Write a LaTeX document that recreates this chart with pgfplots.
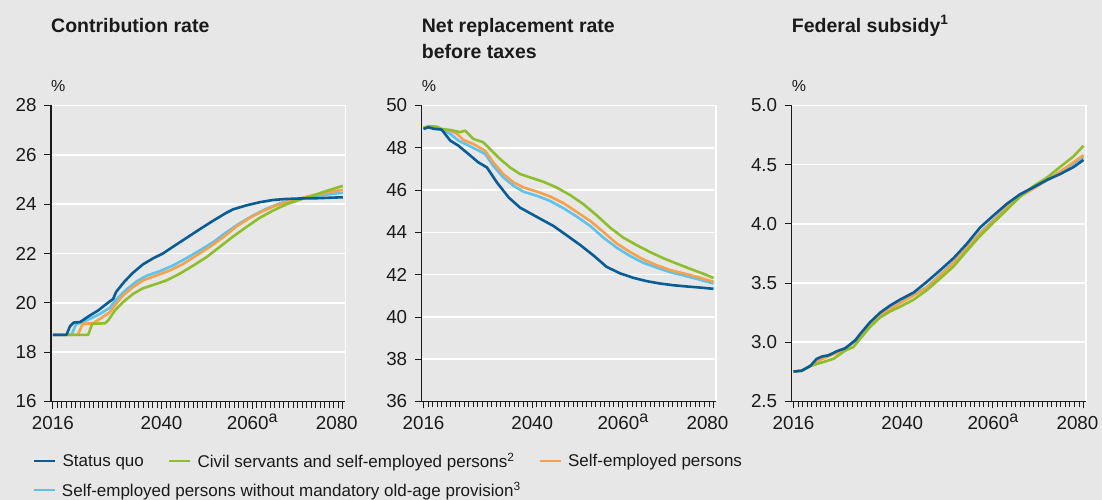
\documentclass[border=0pt]{standalone}
\usepackage{fontspec}
\setmainfont{Liberation Sans}
\usepackage{pgfplots}
\pgfplotsset{compat=1.18}

\definecolor{bg}{HTML}{E7E7E7}
\definecolor{sq}{HTML}{0A5C96}
\definecolor{cs}{HTML}{8DBE2B}
\definecolor{se}{HTML}{F7A14B}
\definecolor{sw}{HTML}{5CC2EE}
\definecolor{ink}{HTML}{1A1A1A}

\newcommand{\fn}[1]{\raisebox{6.5pt}[0pt][0pt]{\fontsize{16}{16}\selectfont #1}}

\pgfplotsset{
  panel/.style={
    scale only axis, width=294.5pt, height=296pt,
    anchor=south west,
    xmin=2015.6, xmax=2080.6,
    xtick={2016,2040,2060,2080},
    xticklabels={2016,2040,2060\fn{a},2080\hspace*{12pt}},
    minor xtick={2017,2018,...,2079},
    axis x line*=bottom, axis y line*=left,
    tick align=outside,
    major tick length=7pt, minor tick length=6pt,
    every tick/.style={ink, line width=0.8pt},
    axis line style={ink, line width=1.4pt},
    ymajorgrids, major grid style={white, line width=1.6pt},
    extra x ticks={2080.6}, extra x tick labels={},
    extra x tick style={xmajorgrids=true, major tick length=0pt},
    tick label style={font=\fontsize{18.8}{19}\selectfont, text=ink},
    xticklabel style={yshift=-4pt},
    yticklabel style={xshift=-4pt},
    /pgf/number format/assume math mode=true,
    every axis plot/.append style={line width=2.6pt, line join=round, forget plot},
    legend image code/.code={\draw[#1, line width=2.6pt] (0pt,0pt) -- (21pt,0pt);},
    legend style={draw=none, fill=none, inner sep=0pt, outer sep=0pt,
      font=\fontsize{17}{17}\selectfont, text=ink,
      /tikz/every odd column/.append style={column sep=4pt},
      /tikz/every even column/.append style={column sep=22pt}},
    legend cell align=left,
  }
}

\begin{document}
\begin{tikzpicture}
\fill[bg] (0,0) rectangle (1102pt,500pt);
\useasboundingbox (0,0) rectangle (1102pt,500pt);

% titles and units
\begin{scope}[every node/.style={anchor=base west, inner sep=0pt, text=ink}]
\node[font=\bfseries\fontsize{19.5}{24}\selectfont] at (51pt,467.7pt) {Contribution rate};
\node[font=\bfseries\fontsize{19.5}{24}\selectfont] at (421.7pt,467.7pt) {Net replacement rate};
\node[font=\bfseries\fontsize{19.5}{24}\selectfont] at (421.7pt,441.7pt) {before taxes};
\node[font=\bfseries\fontsize{19.5}{24}\selectfont] at (791.7pt,467.7pt) {Federal subsidy\textsuperscript{1}};
\node[font=\fontsize{16}{16}\selectfont] at (51pt,408pt) {\%};
\node[font=\fontsize{16}{16}\selectfont] at (421.7pt,408pt) {\%};
\node[font=\fontsize{16}{16}\selectfont] at (791.7pt,408pt) {\%};
\end{scope}

% Contribution rate
\begin{axis}[panel, at={(51pt,98.5pt)},
  ymin=16, ymax=28, ytick={16,18,...,28},
  legend columns=3,
  legend style={at={(-0.061,-0.201)}, anchor=west}]
\addlegendimage{sq}\addlegendentry{Status quo}
\addlegendimage{cs}\addlegendentry{Civil servants and self-employed persons\textsuperscript{2}}
\addlegendimage{se}\addlegendentry{Self-employed persons}
\addplot[sw] coordinates {(2016,18.70)(2020.1,18.70)(2021.1,19.12)(2023.4,19.28)(2026.4,19.55)(2028.6,19.80)(2030,20.14)(2032.3,20.55)(2034.5,20.87)(2036.7,21.10)(2039.6,21.28)(2042.5,21.51)(2045.5,21.81)(2048.4,22.12)(2051.4,22.46)(2054.3,22.86)(2057.3,23.23)(2060.2,23.54)(2063.1,23.81)(2066.1,24.03)(2069,24.18)(2072,24.28)(2074.9,24.35)(2077.8,24.42)(2080,24.46)};
\addplot[se] coordinates {(2016,18.70)(2021.5,18.70)(2022.6,19.15)(2024.9,19.17)(2026.4,19.35)(2028.6,19.62)(2029.7,19.90)(2031.5,20.30)(2033.7,20.64)(2035.9,20.91)(2038.9,21.11)(2041.8,21.31)(2044.8,21.58)(2047.7,21.92)(2050.6,22.26)(2053.6,22.66)(2056.5,23.09)(2059.5,23.45)(2062.4,23.72)(2065.3,23.95)(2068.3,24.12)(2071.2,24.26)(2074.2,24.39)(2077.8,24.51)(2080,24.58)};
\addplot[cs] coordinates {(2016,18.70)(2023.8,18.70)(2024.7,19.15)(2027.5,19.17)(2028.2,19.28)(2029.7,19.69)(2031.5,20.03)(2033.7,20.36)(2035.9,20.59)(2038.1,20.72)(2041.1,20.91)(2044,21.18)(2047,21.51)(2049.9,21.85)(2052.8,22.26)(2055.8,22.69)(2058.7,23.07)(2061.7,23.45)(2064.6,23.74)(2067.5,23.99)(2070.5,24.18)(2073.4,24.35)(2076.3,24.53)(2080,24.74)};
\addplot[sq] coordinates {(2016,18.70)(2019,18.70)(2019.8,19.05)(2020.6,19.20)(2022,19.22)(2024.2,19.49)(2026,19.69)(2028.5,20.05)(2029.3,20.15)(2030,20.45)(2031.9,20.88)(2033.7,21.22)(2035.9,21.56)(2038.1,21.80)(2040.3,22.00)(2042.5,22.27)(2045.5,22.63)(2048.4,22.98)(2051.4,23.33)(2054.3,23.65)(2055.8,23.79)(2058.7,23.95)(2061.7,24.08)(2064.6,24.17)(2067.5,24.21)(2070.5,24.23)(2074.2,24.24)(2080,24.28)};
\end{axis}

% Net replacement rate before taxes
\begin{axis}[panel, at={(421.7pt,98.5pt)},
  ymin=36, ymax=50, ytick={36,38,...,50},
  legend columns=1,
  legend style={at={(-1.322,-0.299)}, anchor=west}]
\addlegendimage{sw}\addlegendentry{Self-employed persons without mandatory old-age provision\textsuperscript{3}}
\addplot[sw] coordinates {(2016,48.90)(2017.1,48.98)(2018.9,48.95)(2020,48.86)(2021.9,48.66)(2023.7,48.34)(2026.3,48.07)(2029.6,47.71)(2031.4,47.15)(2033.6,46.60)(2035.9,46.20)(2038.1,45.92)(2041,45.73)(2043.9,45.49)(2046.9,45.14)(2049.8,44.75)(2052.8,44.30)(2055.7,43.75)(2058.6,43.28)(2061.6,42.88)(2064.5,42.56)(2067.5,42.33)(2070.4,42.12)(2073.4,41.96)(2076.3,41.80)(2080,41.58)};
\addplot[se] coordinates {(2016,48.92)(2017.1,49.00)(2018.9,48.97)(2020,48.87)(2021.9,48.81)(2023.4,48.66)(2024.8,48.37)(2027,48.18)(2029.6,47.86)(2031.4,47.31)(2033.6,46.76)(2035.9,46.36)(2038.1,46.12)(2041,45.93)(2043.9,45.70)(2046.9,45.38)(2049.8,44.97)(2052.8,44.54)(2055.7,44.02)(2058.6,43.48)(2061.6,43.07)(2064.5,42.72)(2067.5,42.44)(2070.4,42.22)(2073.4,42.06)(2076.3,41.90)(2080,41.66)};
\addplot[cs] coordinates {(2016,48.95)(2017.1,49.02)(2018.9,49.00)(2020,48.89)(2021.9,48.84)(2024.1,48.74)(2025.2,48.81)(2027,48.42)(2029.2,48.26)(2030.7,47.94)(2032.9,47.47)(2035.1,47.07)(2037.3,46.76)(2039.5,46.60)(2042.5,46.39)(2045.4,46.12)(2048.4,45.76)(2051.3,45.33)(2054.2,44.81)(2057.2,44.22)(2060.1,43.75)(2063.1,43.39)(2066,43.07)(2069,42.77)(2071.9,42.52)(2074.8,42.28)(2077.8,42.04)(2080,41.84)};
\addplot[sq] coordinates {(2016,48.89)(2017.1,48.97)(2018.2,48.90)(2020,48.86)(2021.9,48.34)(2023.7,48.10)(2025.9,47.71)(2028.1,47.31)(2030,47.07)(2032.2,46.36)(2034.8,45.65)(2037.3,45.17)(2039.5,44.91)(2041.7,44.65)(2044.7,44.30)(2047.6,43.86)(2050.6,43.40)(2053.5,42.91)(2056.4,42.37)(2059.4,42.06)(2062.3,41.85)(2065.3,41.69)(2068.2,41.58)(2071.1,41.50)(2074.1,41.44)(2077,41.39)(2080,41.33)};
\end{axis}

% Federal subsidy
\begin{axis}[panel, at={(791.7pt,98.5pt)},
  ymin=2.5, ymax=5, ytick={2.5,3,...,5},
  yticklabel style={/pgf/number format/.cd, fixed, fixed zerofill, precision=1}]
\addplot[sw] coordinates {(2016,2.753)(2017.8,2.76)(2019.7,2.80)(2022.3,2.865)(2027.4,2.945)(2030.7,3.055)(2035.1,3.235)(2039.5,3.335)(2045.4,3.465)(2051.3,3.675)(2057.2,3.925)(2063.1,4.145)(2066,4.235)(2069,4.30)(2074.8,4.44)(2080,4.56)};
\addplot[se] coordinates {(2016,2.753)(2017.8,2.76)(2019.7,2.80)(2022.3,2.86)(2027.4,2.94)(2030.7,3.05)(2035.1,3.23)(2039.5,3.33)(2045.4,3.46)(2051.3,3.67)(2057.2,3.92)(2063.1,4.14)(2066,4.23)(2069,4.30)(2074.8,4.44)(2080,4.58)};
\addplot[cs] coordinates {(2016,2.753)(2017.8,2.76)(2019.7,2.80)(2022.3,2.83)(2024.8,2.86)(2027.4,2.93)(2029.2,2.96)(2030.7,3.03)(2032.9,3.13)(2035.1,3.21)(2037.3,3.26)(2039.5,3.30)(2042.5,3.36)(2045.4,3.44)(2048.4,3.54)(2051.3,3.64)(2054.2,3.77)(2057.2,3.90)(2060.1,4.01)(2063.1,4.12)(2066,4.23)(2069,4.32)(2071.9,4.39)(2074.8,4.48)(2077.8,4.57)(2080,4.66)};
\addplot[sq] coordinates {(2016,2.753)(2017.8,2.76)(2019.7,2.80)(2021.1,2.86)(2022.3,2.88)(2023.7,2.89)(2025.6,2.925)(2027.4,2.95)(2029.6,3.015)(2030.7,3.07)(2032.9,3.17)(2035.1,3.25)(2037.3,3.31)(2039.5,3.36)(2042.5,3.42)(2045.4,3.51)(2048.4,3.61)(2051.3,3.71)(2054.2,3.83)(2057.2,3.97)(2060.1,4.07)(2063.1,4.17)(2066,4.25)(2069,4.31)(2071.9,4.37)(2074.8,4.42)(2077.8,4.48)(2080,4.54)};
\end{axis}
\end{tikzpicture}
\end{document}
